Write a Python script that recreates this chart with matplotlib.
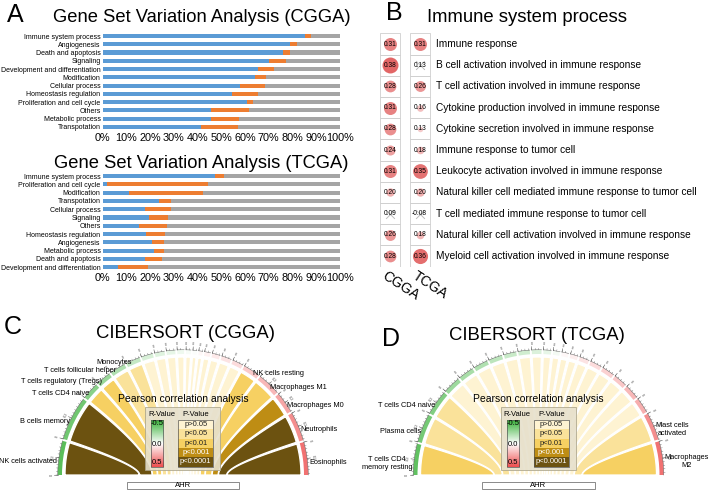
import numpy as np
import matplotlib.pyplot as plt
from matplotlib.patches import Rectangle, Wedge, Polygon
from matplotlib.colors import LinearSegmentedColormap, Normalize

plt.rcParams['font.family'] = ['Liberation Sans', 'DejaVu Sans']

# ---------------- data ----------------
# A: gene set variation analysis, share of gene sets (%)
cgga_terms = ['Immune system process', 'Angiogenesis', 'Death and apoptosis', 'Signaling',
              'Development and differentiation', 'Modification', 'Cellular process',
              'Homeostasis regulation', 'Proliferation and cell cycle', 'Others',
              'Metabolic process', 'Transpotation']
cgga_blue = [85.4, 78.9, 76.1, 70.2, 65.3, 64.2, 57.9, 54.4, 60.8, 45.8, 45.8, 41.6]
cgga_orange = [2.2, 2.8, 2.8, 7.0, 6.9, 4.5, 10.5, 10.9, 2.4, 16.0, 11.8, 15.4]

tcga_terms = ['Immune system process', 'Proliferation and cell cycle', 'Modification',
              'Transpotation', 'Cellular process', 'Signaling', 'Others',
              'Homeostasis regulation', 'Angiogenesis', 'Metabolic process',
              'Death and apoptosis', 'Development and differentiation']
tcga_blue = [47.5, 2.0, 11.2, 23.9, 18.0, 19.7, 15.3, 18.3, 20.9, 21.5, 17.7, 6.6]
tcga_orange = [3.6, 42.4, 31.2, 5.0, 10.9, 7.7, 11.9, 8.1, 5.1, 4.2, 7.3, 12.6]

# B: immune system process correlations
immune_terms = ['Immune response',
                'B cell activation involved in immune response',
                'T cell activation involved in immune response',
                'Cytokine production involved in immune response',
                'Cytokine secretion involved in immune response',
                'Immune response to tumor cell',
                'Leukocyte activation involved in immune response',
                'Natural killer cell mediated immune response to tumor cell',
                'T cell mediated immune response to tumor cell',
                'Natural killer cell activation involved in immune response',
                'Myeloid cell activation involved in immune response']
r_cgga = [0.31, 0.38, 0.28, 0.31, 0.28, 0.24, 0.31, 0.20, 0.09, 0.26, 0.28]
r_tcga = [0.31, 0.13, 0.26, 0.16, 0.13, 0.18, 0.35, 0.20, -0.08, 0.18, 0.36]
sig_cgga = [1, 1, 1, 1, 1, 1, 1, 1, 0, 1, 1]
sig_tcga = [1, 0, 1, 1, 1, 1, 1, 1, 0, 1, 1]

# C / D: CIBERSORT correlation with AHR
# p class: 0 p>0.05, 1 p<0.05, 2 p<0.01, 3 p<0.001, 4 p<0.0001
cells_cgga = ['NK cells activated', 'B cells memory', 'T cells CD4 naive',
              'T cells regulatory (Tregs)', 'T cells follicular helper', 'Monocytes',
              'B cells naive', 'Plasma cells', 'T cells CD8', 'T cells CD4 memory resting',
              'T cells CD4 memory activated', 'T cells gamma delta', 'Dendritic cells resting',
              'Dendritic cells activated', 'Mast cells resting', 'Mast cells activated',
              'Macrophages M2', 'NK cells resting', 'Macrophages M1', 'Macrophages M0',
              'Neutrophils', 'Eosinophils']
size_cgga = [17.5, 22.7, 8.8, 7.6, 8.0, 7.4, 6, 5, 4.5, 3.5, 2.5, 2, 2, 3, 4, 5, 5.5,
             8.6, 11.8, 10.8, 14.9, 16.8]
rval_cgga = [-0.42, -0.36, -0.3, -0.26, -0.2, -0.15, -0.1, -0.08, -0.06, -0.04, -0.02,
             -0.01, 0.02, 0.04, 0.06, 0.08, 0.1, 0.15, 0.2, 0.25, 0.32, 0.4]
pcat_cgga = [4, 4, 2, 2, 1, 1, 0, 0, 0, 0, 0, 0, 0, 0, 0, 0, 0, 2, 2, 3, 4, 4]

cells_tcga = ['T cells CD4\nmemory resting', 'Plasma cells', 'T cells CD4 naive',
              'B cells naive', 'B cells memory', 'T cells CD8', 'T cells CD4 memory activated',
              'T cells follicular helper', 'T cells regulatory (Tregs)', 'T cells gamma delta',
              'NK cells resting', 'NK cells activated', 'Monocytes', 'Macrophages M0',
              'Macrophages M1', 'Dendritic cells resting', 'Dendritic cells activated',
              'Mast cells resting', 'Eosinophils', 'Neutrophils',
              'Mast cells\nactivated', 'Macrophages\nM2']
size_tcga = [16.1, 14.8, 12.9, 9, 8, 7.5, 7, 6.5, 6, 5, 4, 3.5, 3.5, 4, 5, 6, 6.5, 7,
             7.5, 8, 14.3, 17.4]
rval_tcga = [-0.4, -0.35, -0.32, -0.25, -0.22, -0.2, -0.17, -0.14, -0.12, -0.09, -0.06,
             -0.03, 0.02, 0.05, 0.08, 0.1, 0.13, 0.16, 0.2, 0.23, 0.32, 0.4]
pcat_tcga = [2, 1, 1, 0, 0, 0, 0, 0, 0, 0, 0, 0, 0, 0, 0, 0, 0, 0, 0, 0, 1, 2]

p_labels = ['p>0.05', 'p<0.05', 'p<0.01', 'p<0.001', 'p<0.0001']
p_colors = ['#FEF3D2', '#FAE29A', '#F6D062', '#BE8D14', '#6C5210']

# ---------------- figure ----------------
W, H = 709, 491
fig = plt.figure(figsize=(W / 100, H / 100), dpi=100)


def px_axes(x0, y0, x1, y1):
    return fig.add_axes([x0 / W, 1 - y1 / H, (x1 - x0) / W, (y1 - y0) / H])


def ftext(x, y, s, **kw):
    kw.setdefault('ha', 'center')
    kw.setdefault('va', 'center')
    fig.text(x / W, 1 - y / H, s, **kw)


# ---- A ----
def gsva(ax, terms, blue, orange):
    y = np.arange(len(terms))
    blue = np.array(blue)
    orange = np.array(orange)
    grey = 100 - blue - orange
    ax.barh(y, blue, height=0.5, color='#5B9BD5')
    ax.barh(y, orange, left=blue, height=0.5, color='#ED7D31')
    ax.barh(y, grey, left=blue + orange, height=0.5, color='#A5A5A5')
    ax.set_xlim(0, 100)
    ax.set_ylim(len(terms) - 0.5, -0.5)
    ax.set_yticks(y)
    ax.set_yticklabels(terms, fontsize=5.0)
    ax.set_xticks(np.arange(0, 101, 10))
    ax.set_xticklabels([f'{v}%' for v in range(0, 101, 10)], fontsize=7.8)
    ax.tick_params(length=0, pad=1.5)
    for s in ax.spines.values():
        s.set_visible(False)


ax1 = px_axes(102.7, 31.9, 340, 131.1)
gsva(ax1, cgga_terms, cgga_blue, cgga_orange)
ax2 = px_axes(102.7, 171.9, 340, 271.4)
gsva(ax2, tcga_terms, tcga_blue, tcga_orange)

ftext(15.7, 14.5, 'A', fontsize=18)
ftext(201.7, 17, 'Gene Set Variation Analysis (CGGA)', fontsize=13.2)
ftext(201.7, 164, 'Gene Set Variation Analysis (TCGA)', fontsize=13.2)

# ---- B ----
ax3 = px_axes(375.15, 33.4, 434.55, 266.6)
ax3.set_xlim(-0.5, 1.5)
ax3.set_ylim(len(immune_terms) - 0.5, -0.5)
ax3.axis('off')
dot_cmap = LinearSegmentedColormap.from_list('dot', ['#FFFFFF', '#D93636'])
for col, (vals, sig) in enumerate([(r_cgga, sig_cgga), (r_tcga, sig_tcga)]):
    for row, (v, s) in enumerate(zip(vals, sig)):
        ax3.add_patch(Rectangle((col - 0.34, row - 0.5), 0.68, 1, fc='none',
                                ec='#CFCFCF', lw=0.6))
        if s:
            ax3.scatter(col, row, s=(42 * abs(v) / 1.389) ** 2,
                        color=dot_cmap(abs(v) / 0.5), lw=0, zorder=2)
        else:
            ax3.scatter(col, row, s=40, marker='x', color='#BDBDBD', lw=0.7, zorder=2)
        ax3.text(col, row, f'{v:.2f}', fontsize=4.8, ha='center', va='center', zorder=3)
for row, t in enumerate(immune_terms):
    ax3.text(1.55, row, t, fontsize=7.3, ha='left', va='center')
ax3.text(-0.1, 10.6, 'CGGA', fontsize=10, rotation=-33, ha='left', va='top',
         rotation_mode='anchor')
ax3.text(0.93, 10.6, 'TCGA', fontsize=10, rotation=-33, ha='left', va='top',
         rotation_mode='anchor')

ftext(394.7, 12.5, 'B', fontsize=18)
ftext(527, 17, 'Immune system process', fontsize=13.3)

# ---- C / D ----
r_cmap = LinearSegmentedColormap.from_list('rv', ['#3BB23B', '#FFFFFF', '#EE4F4F'])
r_norm = Normalize(-0.5, 0.5)


def bezier(p0, p1, p2, n=40):
    t = np.linspace(0, 1, n)[:, None]
    return (1 - t) ** 2 * p0 + 2 * t * (1 - t) * p1 + t ** 2 * p2


def chord(ax, cells, sizes, rvals, pcat):
    n = len(cells)
    sizes = np.array(sizes, float)
    gap = 0.9
    widths = sizes / sizes.sum() * (180 - gap * (n - 1))
    starts = 180 - np.concatenate([[0], np.cumsum(widths + gap)[:-1]])
    ends = starts - widths
    foot, fgap = 0.44, 0.004
    fw = sizes / sizes.sum() * (2 * foot - fgap * (n - 1))
    f0 = -foot + np.concatenate([[0], np.cumsum(fw + fgap)[:-1]])
    f1 = f0 + fw
    r_in = 0.975
    ro = 1.035
    for i in range(n):
        th = np.radians(np.linspace(starts[i], ends[i], 50))
        arc = np.column_stack([r_in * np.cos(th), r_in * np.sin(th)])
        p, q = arc[-1], arc[0]
        right = bezier(p, np.array([f1[i], p[1] * 0.3]), np.array([f1[i], 0.0]))
        left = bezier(q, np.array([f0[i], q[1] * 0.3]), np.array([f0[i], 0.0]))[::-1]
        ax.add_patch(Polygon(np.vstack([arc, right, left]), closed=True,
                             fc=p_colors[pcat[i]], ec='white', lw=0.9))
        ax.add_patch(Wedge((0, 0), ro, ends[i], starts[i], width=0.035,
                           fc=r_cmap(r_norm(rvals[i])), ec='none'))
        # scale line with minor ticks on the ring
        ax.plot(ro * np.cos(th), ro * np.sin(th), color='#666666', lw=0.35)
        for a in np.arange(starts[i], ends[i], -1.6):
            ar = np.radians(a)
            ax.plot([ro * np.cos(ar), (ro + 0.012) * np.cos(ar)],
                    [ro * np.sin(ar), (ro + 0.012) * np.sin(ar)], color='#666666', lw=0.3)
        tick_angles = [starts[i]]
        if widths[i] > 9:
            tick_angles.append((starts[i] + ends[i]) / 2)
        for k, a in enumerate(tick_angles):
            ar = np.radians(a)
            ax.plot([ro * np.cos(ar), (ro + 0.027) * np.cos(ar)],
                    [ro * np.sin(ar), (ro + 0.027) * np.sin(ar)], color='#555555', lw=0.4)
            ax.text(1.085 * np.cos(ar), 1.085 * np.sin(ar), '0' if k == 0 else '0.2',
                    fontsize=2.8, color='#555555', ha='center', va='center',
                    rotation=a - 90)
        if pcat[i] > 0:
            m = np.radians((starts[i] + ends[i]) / 2)
            c = np.cos(m)
            ha = 'right' if c < -0.05 else ('left' if c > 0.05 else 'center')
            ax.text(1.05 * c, 1.05 * np.sin(m) - 0.035, cells[i], fontsize=5.3,
                    ha=ha, va='center', multialignment='center')

    # AHR bar
    ax.add_patch(Rectangle((-0.463, -0.116), 0.926, 0.061, fc='white', ec='#777777', lw=0.6))
    ax.text(0, -0.086, 'AHR', fontsize=5.5, ha='center', va='center')

    # legend
    ax.text(0, 0.628, 'Pearson correlation analysis', fontsize=7.5, ha='center', va='center')
    ax.add_patch(Rectangle((-0.314, 0.041), 0.62, 0.521, fc='#E6E0CC', ec='#A8A288',
                           lw=0.6, alpha=0.9, zorder=3))
    ax.text(-0.178, 0.5, 'R-Value', fontsize=5.5, ha='center', va='center', zorder=4)
    ax.text(0.105, 0.5, 'P-Value', fontsize=5.5, ha='center', va='center', zorder=4)
    grad = np.linspace(-0.5, 0.5, 100)[:, None]
    ax.imshow(grad, cmap=r_cmap, norm=r_norm, extent=(-0.264, -0.163, 0.069, 0.455),
              origin='upper', aspect='auto', zorder=4)
    ax.add_patch(Rectangle((-0.264, 0.069), 0.101, 0.386, fc='none', ec='#555555',
                           lw=0.5, zorder=5))
    for v, y in [('-0.5', 0.427), ('0.0', 0.248), ('0.5', 0.102)]:
        ax.text(-0.213, y, v, fontsize=5.5, ha='center', va='center', zorder=5)
    hgt = 0.386 / len(p_labels)
    for k, (lab, col) in enumerate(zip(p_labels, p_colors)):
        y0 = 0.455 - (k + 1) * hgt
        ax.add_patch(Rectangle((-0.039, y0), 0.289, hgt, fc=col, ec='none', zorder=4))
        ax.text(0.105, y0 + hgt / 2, lab, fontsize=5.5, ha='center', va='center',
                color='white' if k >= 3 else '#222222', zorder=5)
    ax.add_patch(Rectangle((-0.039, 0.069), 0.289, 0.386, fc='none', ec='#555555',
                           lw=0.5, zorder=5))


U = 121.0
ax4 = px_axes(0, 310, 360, 491)
ax4.set_xlim((0 - 183) / U, (360 - 183) / U)
ax4.set_ylim((475 - 491) / U, (475 - 310) / U)
ax4.axis('off')
chord(ax4, cells_cgga, size_cgga, rval_cgga, pcat_cgga)

ax5 = px_axes(355, 310, 709, 491)
ax5.set_xlim((355 - 538.5) / U, (709 - 538.5) / U)
ax5.set_ylim((475 - 491) / U, (475 - 310) / U)
ax5.axis('off')
chord(ax5, cells_tcga, size_tcga, rval_tcga, pcat_tcga)

ftext(13, 327.5, 'C', fontsize=18)
ftext(185, 333, 'CIBERSORT (CGGA)', fontsize=13.3)
ftext(390.5, 339, 'D', fontsize=18)
ftext(536.7, 335, 'CIBERSORT (TCGA)', fontsize=13.3)

fig.savefig('out.png', dpi=100)
